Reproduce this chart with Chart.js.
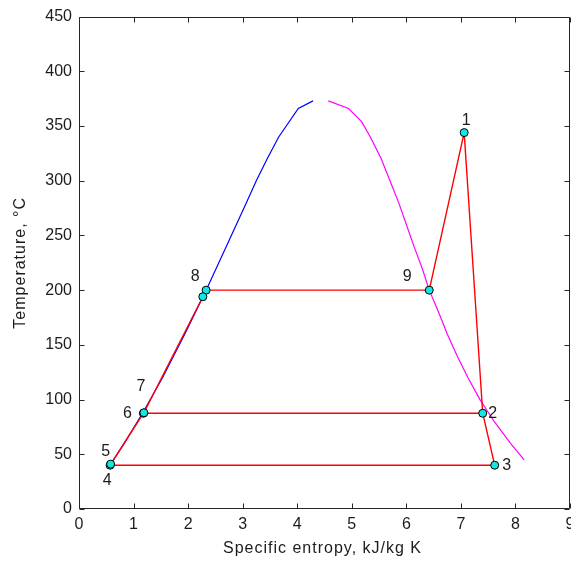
<!DOCTYPE html>
<html>
<head>
<meta charset="utf-8">
<script src="https://cdn.jsdelivr.net/npm/chart.js@4.4.1/dist/chart.umd.min.js"></script>
<style>
html,body{margin:0;padding:0;background:#fff;overflow:hidden;}
canvas{display:block;}
</style>
</head>
<body>
<canvas id="ts" width="571" height="564"></canvas>
<script>
/* -----------------------------
   DATA
------------------------------ */
// saturated liquid line
const liqS = [0.57, 0.83, 1.17, 1.53, 1.94, 2.33, 2.70, 3.07, 3.25, 3.45, 3.66, 4.02, 4.29];
const liqT = [40, 60, 88, 120, 160, 200, 240, 280, 300, 320, 340, 366, 373];

// saturated vapour line
const vapS = [4.57, 4.94, 5.18, 5.34, 5.54, 5.70, 5.86, 6.00, 6.14, 6.29, 6.42, 6.59, 6.75, 6.93, 7.13, 7.35, 7.61, 7.91, 8.16];
const vapT = [373, 366, 354, 340, 320, 300, 280, 260, 240, 220, 200, 180, 160, 140, 120, 100, 80, 60, 45];

// cycle states 1..9, then the unlabelled pump exit point
const stateLabels = ["1","2","3","4","5","6","7","8","9"];
const stateS = [7.06, 7.40, 7.62, 0.57, 0.58, 1.18, 1.19, 2.33, 6.42, 2.27];
const stateT = [344, 87.5, 40, 40, 41, 87.5, 88, 200, 200, 194];

// order the states are joined in (0-based indexes into stateS/stateT)
const cycleOrder = [0, 1, 2, 3, 4, 5, 6, 9, 7, 8, 0];
const bleedOrder = [5, 1];

const xTicks = [0,1,2,3,4,5,6,7,8,9];
const yTicks = [0,50,100,150,200,250,300,350,400,450];
const xTitle = "Specific entropy, kJ/kg K";
const yTitle = "Temperature, \u00B0C";

/* -----------------------------
   STYLE
------------------------------ */
const FONT = "'Liberation Sans', Arial, sans-serif";
const INK = "#1c1c1c";
// text offsets of each state label from its marker, px
const labelDX = [2, 10, 12, -3, -5, -16, -3, -11, -22];
const labelDY = [-12, 0, 0, 15, -13, 0, -26, -14, -14];

function pts(sArr, tArr){
return sArr.map((s,i)=>({x:s, y:tArr[i]}));
}

function pathPts(order){
return order.map(i=>({x:stateS[i], y:stateT[i]}));
}

/* -----------------------------
   FRAME, INWARD TICKS, AXIS TEXT
------------------------------ */
const framePlugin = {
id:"frame",
afterDatasetsDraw(chart){
const {ctx, chartArea:a, scales} = chart;
const L = Math.round(a.left)+0.5, R = Math.round(a.right)-0.5;
const T = Math.round(a.top)+0.5, B = Math.round(a.bottom)-0.5;
ctx.save();
ctx.strokeStyle = "#262626";
ctx.lineWidth = 1;
ctx.beginPath();
ctx.rect(L, T, R-L, B-T);
xTicks.forEach(v=>{
let px = Math.round(scales.x.getPixelForValue(v))+0.5;
ctx.moveTo(px, B); ctx.lineTo(px, B-5);
ctx.moveTo(px, T); ctx.lineTo(px, T+5);
});
yTicks.forEach(v=>{
let py = Math.round(scales.y.getPixelForValue(v))+0.5;
ctx.moveTo(L, py); ctx.lineTo(L+5, py);
ctx.moveTo(R, py); ctx.lineTo(R-5, py);
});
ctx.stroke();

// x tick labels
ctx.fillStyle = INK;
ctx.font = "16px " + FONT;
ctx.textAlign = "center";
ctx.textBaseline = "middle";
xTicks.forEach(v=>{
ctx.fillText(String(v), scales.x.getPixelForValue(v), a.bottom+16);
});

// axis titles
ctx.letterSpacing = "1px";
ctx.fillText(xTitle, (a.left+a.right)/2 - 2, a.bottom+40);
ctx.translate(21, (a.top+a.bottom)/2);
ctx.rotate(-Math.PI/2);
ctx.fillText(yTitle, 0, 0);
ctx.restore();
}
};

/* -----------------------------
   STATE NUMBERS
------------------------------ */
const labelPlugin = {
id:"stateLabels",
afterDatasetsDraw(chart){
const {ctx, scales} = chart;
ctx.save();
ctx.font = "16px " + FONT;
ctx.fillStyle = INK;
ctx.textAlign = "center";
ctx.textBaseline = "middle";
stateLabels.forEach((lab,i)=>{
let px = scales.x.getPixelForValue(stateS[i]);
let py = scales.y.getPixelForValue(stateT[i]);
ctx.fillText(lab, px+labelDX[i], py+labelDY[i]);
});
ctx.restore();
}
};

/* -----------------------------
   CHART
------------------------------ */
new Chart(document.getElementById("ts"),{
type:"scatter",
data:{
datasets:[
{
label:"states",
data:pts(stateS, stateT),
showLine:false,
pointRadius:4,
pointHoverRadius:4,
pointBackgroundColor:"#14e6e6",
pointBorderColor:"#000",
pointBorderWidth:1
},
{
label:"cycle",
data:pathPts(cycleOrder),
showLine:true,
borderColor:"#ff0000",
borderWidth:1.4,
pointRadius:0
},
{
label:"bleed",
data:pathPts(bleedOrder),
showLine:true,
borderColor:"#ff0000",
borderWidth:1.4,
pointRadius:0
},
{
label:"sat liquid",
data:pts(liqS, liqT),
showLine:true,
borderColor:"#0000ff",
borderWidth:1.2,
pointRadius:0
},
{
label:"sat vapour",
data:pts(vapS, vapT),
showLine:true,
borderColor:"#ff00ff",
borderWidth:1.2,
pointRadius:0
}
]
},
options:{
responsive:false,
animation:false,
devicePixelRatio:1,
layout:{autoPadding:false,padding:{top:16,right:1,left:0,bottom:0}},
plugins:{legend:{display:false},tooltip:{enabled:false}},
scales:{
x:{
type:"linear",
min:0,max:9,
grid:{display:false,drawTicks:false},
border:{display:false},
ticks:{display:false,stepSize:1},
afterFit(s){ s.height = 55; }
},
y:{
type:"linear",
min:0,max:450,
grid:{display:false,drawTicks:false},
border:{display:false},
ticks:{stepSize:50,padding:7,color:INK,font:{family:FONT,size:16}},
afterFit(s){ s.width = 79; }
}
}
},
plugins:[framePlugin,labelPlugin]
});
</script>
</body>
</html>
